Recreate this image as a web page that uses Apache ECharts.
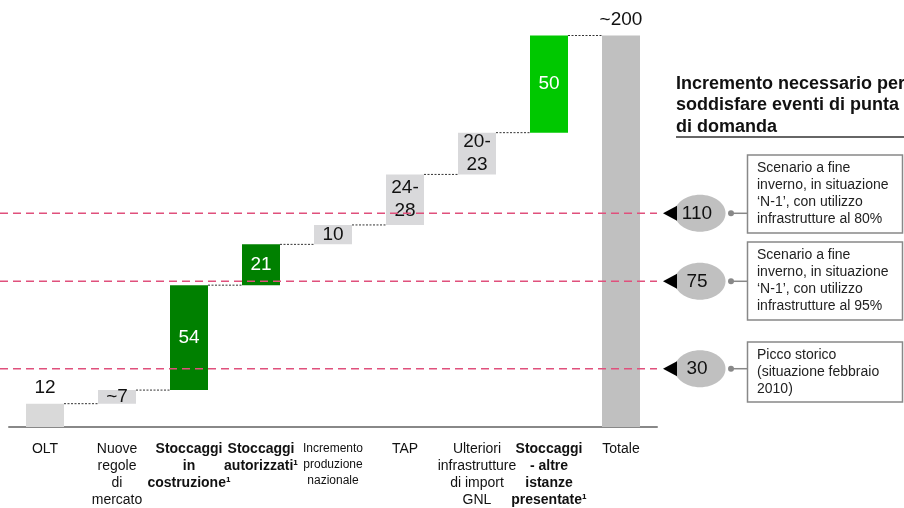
<!DOCTYPE html>
<html>
<head>
<meta charset="utf-8">
<script src="https://cdn.jsdelivr.net/npm/echarts@6/dist/echarts.min.js"></script>
<style>html,body{margin:0;padding:0;background:#fff}#chart{width:904px;height:508px}</style>
</head>
<body>
<div id="chart"></div>
<script>
// ---- data ----
var categories = ['OLT', 'Nuove\nregole\ndi\nmercato', 'Stoccaggi\nin\ncostruzione¹', 'Stoccaggi\nautorizzati¹',
  'Incremento\nproduzione\nnazionale', 'TAP', 'Ulteriori\ninfrastrutture\ndi import\nGNL',
  'Stoccaggi\n- altre\nistanze\npresentate¹', 'Totale'];
var categoryEmphasis = ['normal', 'normal', 'bold', 'bold', 'small', 'normal', 'normal', 'bold', 'normal'];
var increments = [12, 7, 54, 21, 10, 26, 21.5, 50, 201.5];
var valueLabels = ['12', '~7', '54', '21', '10', '24-\n28', '20-\n23', '50', '~200'];
var segmentType = ['existing', 'estimate', 'firm', 'firm', 'estimate', 'estimate', 'estimate', 'pending', 'total'];
var peakValues = [110, 75, 30];
var peakNotes = [
  'Scenario a fine\ninverno, in situazione\n‘N-1’, con utilizzo\ninfrastrutture al 80%',
  'Scenario a fine\ninverno, in situazione\n‘N-1’, con utilizzo\ninfrastrutture al 95%',
  'Picco storico\n(situazione febbraio\n2010)'
];
var heading = 'Incremento necessario per\nsoddisfare eventi di punta\ndi domanda';

// ---- styles ----
var FONT = '"Liberation Sans", Arial, Helvetica, sans-serif';
var typeColor = { existing: '#d9d9d9', estimate: '#d9d9db', firm: '#008000', pending: '#00c800', total: '#c0c0c0' };
var typeLabelColor = { existing: '#111', estimate: '#111', firm: '#fff', pending: '#fff', total: '#111' };
var typeLabelPos = { existing: 'top', estimate: 'inside', firm: 'inside', pending: 'inside', total: 'top' };
var BAR_W = 38;

// ---- derived waterfall ----
var bases = [], tops = [], run = 0;
for (var i = 0; i < increments.length; i++) {
  if (segmentType[i] === 'total') { bases.push(0); tops.push(increments[i]); }
  else { bases.push(run); run += increments[i]; tops.push(run); }
}
var connectors = [];
for (var j = 0; j < increments.length - 1; j++) connectors.push([j, tops[j]]);

var chart = echarts.init(document.getElementById('chart'));

var valueData = increments.map(function (v, k) {
  var t = segmentType[k];
  return {
    value: v,
    itemStyle: { color: typeColor[t] },
    label: {
      show: true, position: typeLabelPos[t], distance: 4,
      formatter: valueLabels[k], color: typeLabelColor[t],
      fontSize: 19, lineHeight: 23, fontFamily: FONT
    }
  };
});

var noteBoxes = [
  { top: 155, h: 78 },
  { top: 242, h: 78 },
  { top: 342, h: 60 }
];
var graphics = [];
graphics.push({
  type: 'text', left: 676, top: 73, z: 10,
  style: { text: heading, font: 'bold 18px ' + FONT, fill: '#111', lineHeight: 21.5 }
});
graphics.push({
  type: 'line', z: 10, shape: { x1: 676, y1: 137, x2: 904, y2: 137 },
  style: { stroke: '#333', lineWidth: 1.5 }
});
noteBoxes.forEach(function (b, k) {
  graphics.push({
    type: 'rect', z: 10, shape: { x: 747.5, y: b.top, width: 155, height: b.h },
    style: { fill: '#fff', stroke: '#888', lineWidth: 1.5 }
  });
  graphics.push({
    type: 'text', z: 11, left: 757, top: b.top + 5,
    style: { text: peakNotes[k], font: '14px ' + FONT, fill: '#222', lineHeight: 17 }
  });
});

chart.setOption({
  animation: false,
  backgroundColor: '#fff',
  grid: { left: 9, right: 247, top: 19, bottom: 81, containLabel: false },
  xAxis: {
    type: 'category', data: categories,
    axisLine: { lineStyle: { color: '#888', width: 2 } },
    axisTick: { show: false },
    axisLabel: {
      interval: 0, margin: 14, color: '#111', fontFamily: FONT,
      formatter: function (v, idx) { return '{' + categoryEmphasis[idx] + '|' + v + '}'; },
      rich: {
        normal: { fontSize: 14, lineHeight: 17, fontFamily: FONT, color: '#111' },
        bold: { fontSize: 14, lineHeight: 17, fontWeight: 'bold', fontFamily: FONT, color: '#111' },
        small: { fontSize: 12, lineHeight: 16, fontFamily: FONT, color: '#111' }
      }
    }
  },
  yAxis: { type: 'value', min: 0, max: 210, show: false, splitLine: { show: false } },
  graphic: graphics,
  series: [
    {
      type: 'bar', stack: 'wf', barWidth: BAR_W, data: bases,
      itemStyle: { color: 'transparent' }, silent: true
    },
    {
      type: 'bar', stack: 'wf', barWidth: BAR_W, data: valueData
    },
    {
      type: 'custom', data: connectors, z: 5,
      renderItem: function (params, api) {
        var p = api.coord([api.value(0), api.value(1)]);
        var band = api.size([1, 0])[0];
        return {
          type: 'line',
          shape: { x1: p[0] + BAR_W / 2, y1: p[1], x2: p[0] + band - BAR_W / 2, y2: p[1] },
          style: { stroke: '#333', lineWidth: 1, lineDash: [2, 1.5] }
        };
      }
    },
    {
      type: 'custom', data: peakValues.map(function (v) { return [0, v]; }), z: 8, clip: false,
      renderItem: function (params, api) {
        var cs = params.coordSys;
        var y = api.coord([0, api.value(1)])[1];
        var right = cs.x + cs.width;
        return {
          type: 'group',
          children: [
            { type: 'line', shape: { x1: 0, y1: y, x2: right, y2: y },
              style: { stroke: '#e0507c', lineWidth: 1.5, lineDash: [8, 5] } },
            { type: 'ellipse', shape: { cx: right + 43, cy: y, rx: 25.5, ry: 18.5 },
              style: { fill: '#c0c0c0' } },
            { type: 'polygon', shape: { points: [[right + 6, y], [right + 20, y - 7.5], [right + 20, y + 7.5]] },
              style: { fill: '#000' } },
            { type: 'text', style: { text: String(api.value(1)), x: right + 40, y: y, align: 'center',
              verticalAlign: 'middle', font: '19px ' + FONT, fill: '#111' } },
            { type: 'line', shape: { x1: right + 74, y1: y, x2: right + 90, y2: y },
              style: { stroke: '#888', lineWidth: 1.5 } },
            { type: 'circle', shape: { cx: right + 74, cy: y, r: 3 }, style: { fill: '#888' } }
          ]
        };
      }
    }
  ]
});
</script>
</body>
</html>
